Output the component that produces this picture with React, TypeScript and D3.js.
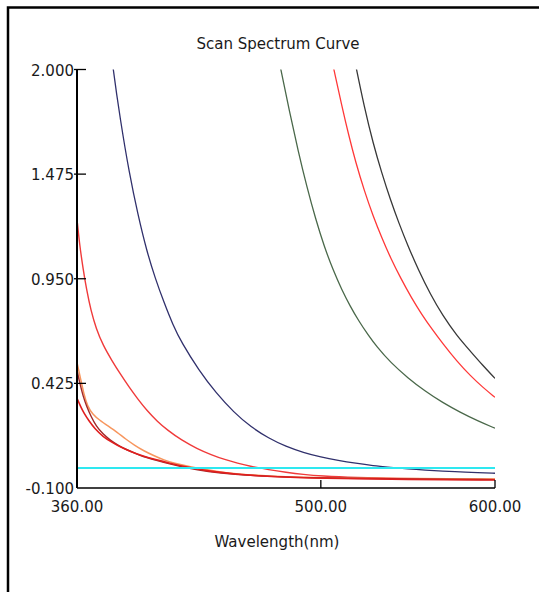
import React from "react";
import * as d3 from "d3";

// wavelength (nm), absorbance pairs
const navyCurve: [number, number][] = [
  [372, 2.7], [375, 2.45], [380, 2.04], [385, 1.74], [390, 1.48], [395, 1.27],
  [400, 1.09], [405, 0.95], [410, 0.83], [415, 0.72], [420, 0.63], [430, 0.49],
  [440, 0.375], [450, 0.28], [460, 0.205], [470, 0.15], [480, 0.108], [490, 0.078],
  [500, 0.055], [510, 0.038], [520, 0.024], [530, 0.012], [540, 0.004], [550, -0.004],
  [560, -0.01], [570, -0.015], [580, -0.019], [590, -0.023], [600, -0.026]
];
const greenCurve: [number, number][] = [
  [467, 2.45], [472, 2.22], [477, 2.0], [482, 1.79], [487, 1.59], [492, 1.41],
  [497, 1.25], [502, 1.11], [507, 0.995], [512, 0.895], [517, 0.81], [522, 0.735],
  [527, 0.67], [532, 0.61], [540, 0.53], [550, 0.452], [560, 0.385], [570, 0.328],
  [580, 0.28], [590, 0.237], [600, 0.2]
];
const redUpperCurve: [number, number][] = [
  [500, 2.3], [504, 2.14], [508, 1.98], [512, 1.82], [516, 1.67], [520, 1.535],
  [525, 1.39], [530, 1.265], [535, 1.155], [540, 1.055], [546, 0.95], [552, 0.855],
  [558, 0.77], [564, 0.695], [570, 0.625], [578, 0.537], [586, 0.462], [593, 0.405],
  [600, 0.355]
];
const grayCurve: [number, number][] = [
  [510, 2.46], [515, 2.24], [520, 2.02], [525, 1.81], [530, 1.63], [535, 1.48],
  [540, 1.345], [545, 1.225], [550, 1.115], [556, 0.995], [563, 0.87], [570, 0.765],
  [578, 0.665], [586, 0.585], [593, 0.515], [600, 0.45]
];
const redLowerCurve: [number, number][] = [
  [360, 1.25], [361.5, 1.12], [363.5, 1.0], [365.5, 0.895], [368, 0.79], [371, 0.7],
  [375, 0.615], [380, 0.54], [385, 0.47], [390, 0.405], [395, 0.345], [400, 0.29],
  [406, 0.235], [412, 0.19], [420, 0.14], [429, 0.097], [437, 0.067], [445, 0.042],
  [452, 0.025], [460, 0.008], [470, -0.008], [480, -0.021], [490, -0.032],
  [500, -0.04], [520, -0.048], [545, -0.052], [570, -0.054], [600, -0.056]
];
const orangeCurve: [number, number][] = [
  [360, 0.53], [362, 0.45], [364, 0.37], [366, 0.31], [369, 0.27], [373, 0.24],
  [378, 0.21], [383, 0.18], [388, 0.145], [393, 0.115], [398, 0.088], [404, 0.063],
  [410, 0.04], [416, 0.024], [423, 0.01], [431, -0.004], [440, -0.016], [448, -0.026],
  [460, -0.035], [480, -0.044], [500, -0.048], [540, -0.052], [600, -0.055]
];
const darkRedCurve: [number, number][] = [
  [360, 0.49], [361.5, 0.43], [363.5, 0.36], [365.5, 0.31], [368, 0.26], [371, 0.21],
  [375, 0.17], [379, 0.14], [384, 0.112], [389, 0.09], [394, 0.072], [398, 0.057],
  [405, 0.04], [412, 0.023], [423, 0.0], [435, -0.018], [450, -0.032], [470, -0.042],
  [500, -0.05], [550, -0.055], [600, -0.058]
];
const redCurve: [number, number][] = [
  [360, 0.35], [362, 0.31], [364, 0.275], [367, 0.235], [370, 0.2], [375, 0.157],
  [380, 0.13], [385, 0.105], [391, 0.082], [398, 0.06], [405, 0.043], [413, 0.025],
  [423, 0.005], [435, -0.015], [450, -0.03], [470, -0.043], [500, -0.052],
  [550, -0.057], [600, -0.06]
];
const baseline: [number, number][] = [[360, 0.0], [600, 0.0]];

const xTicks = [360, 500, 600];
const yTicks = [2.0, 1.475, 0.95, 0.425, -0.1];

const series = [
  { data: navyCurve, color: "#30306c", width: 1.3 },
  { data: greenCurve, color: "#4a684a", width: 1.3 },
  { data: redUpperCurve, color: "#ff3838", width: 1.3 },
  { data: grayCurve, color: "#383838", width: 1.3 },
  { data: redLowerCurve, color: "#f03a3a", width: 1.4 },
  { data: orangeCurve, color: "#f7965e", width: 1.5 },
  { data: darkRedCurve, color: "#a02828", width: 1.4 },
  { data: redCurve, color: "#e01e1e", width: 1.6 }
];

const FONT = "'DejaVu Sans Condensed', 'DejaVu Sans', sans-serif";

export default function App() {
  const left = 77, right = 495, top = 69.5, bottom = 488;

  const x = d3.scaleLinear().domain([360, 600]).range([left, right]);
  const y = d3.scaleLinear().domain([-0.1, 2.0]).range([bottom, top]);

  const line = d3
    .line<[number, number]>()
    .x(d => x(d[0]))
    .y(d => y(d[1]))
    .curve(d3.curveBasis);

  return (
    <svg
      width={539}
      height={592}
      style={{ position: "absolute", left: 0, top: 0, background: "#fff" }}
      fontFamily={FONT}
      fontStretch="condensed"
    >
      <defs>
        <clipPath id="plot">
          <rect x={left} y={top} width={right - left} height={bottom - top} />
        </clipPath>
      </defs>

      {/* frame */}
      <path d="M8,600 V7.5 H545" fill="none" stroke="#000" strokeWidth={2.5} />

      <text x={278} y={49} textAnchor="middle" fontSize={16.7} fill="#1a1a1a">
        Scan Spectrum Curve
      </text>

      <g clipPath="url(#plot)">
        {series.map((s, i) => (
          <path key={i} d={line(s.data) ?? ""} fill="none" stroke={s.color} strokeWidth={s.width} />
        ))}
        <path d={line(baseline) ?? ""} fill="none" stroke="#2ee8f0" strokeWidth={2} />
      </g>

      {/* axes */}
      <line x1={left} x2={left} y1={top} y2={bottom} stroke="#000" strokeWidth={2} />
      <line x1={left} x2={right} y1={bottom} y2={bottom} stroke="#000" strokeWidth={1.6} />

      {yTicks.map(t => (
        <g key={t}>
          {t > -0.1 && (
            <line x1={74} x2={86} y1={y(t)} y2={y(t)} stroke="#000" strokeWidth={1.3} />
          )}
          <text x={74} y={y(t)} dy="0.36em" textAnchor="end" fontSize={16.7} fill="#1a1a1a">
            {t.toFixed(3)}
          </text>
        </g>
      ))}

      {xTicks.map(t => (
        <g key={t}>
          {t > 360 && (
            <line x1={x(t)} x2={x(t)} y1={bottom - 8} y2={bottom} stroke="#000" strokeWidth={1.3} />
          )}
          <text x={x(t)} y={512} textAnchor="middle" fontSize={16.7} fill="#1a1a1a">
            {t.toFixed(2)}
          </text>
        </g>
      ))}

      <text x={277} y={547} textAnchor="middle" fontSize={16.7} fill="#1a1a1a">
        Wavelength(nm)
      </text>
    </svg>
  );
}
